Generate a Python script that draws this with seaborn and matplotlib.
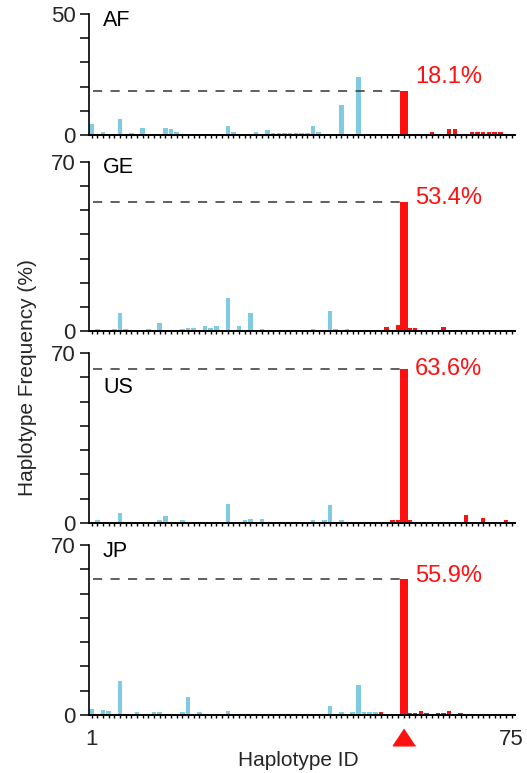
import numpy as np
import pandas as pd
import matplotlib
matplotlib.use("Agg")
import matplotlib.pyplot as plt
import seaborn as sns
from matplotlib.transforms import blended_transform_factory

# ---------------- data ----------------
haplotype_ids = list(range(1, 76))
panels = ["AF", "GE", "US", "JP"]
y_max = [50, 70, 70, 70]
main_id = 56
main_freq = [18.1, 53.4, 63.6, 55.9]
main_labels = ["18.1%", "53.4%", "63.6%", "55.9%"]
red_from = 52
x_tick_labels = ["1", "75"]

af_ids = [1, 3, 6, 8, 10, 14, 15, 16, 25, 26, 30, 32, 33, 34, 35, 36, 37, 38, 39,
          40, 41, 45, 48, 61, 64, 65, 68, 69, 70, 71, 72, 73]
af_vals = [4.5, 1.1, 6.5, 1.0, 3.0, 3.0, 2.3, 1.1, 3.9, 1.1, 1.1, 2.0, 1.0, 1.0, 1.0, 1.0, 1.0, 1.0, 1.0,
           3.9, 1.1, 12.4, 23.8, 1.4, 2.3, 2.3, 1.4, 1.4, 1.4, 1.4, 1.4, 1.4]

ge_ids = [2, 5, 6, 7, 11, 13, 17, 18, 19, 21, 22, 23, 25, 27, 29, 31, 40, 43, 44, 46,
          53, 55, 57, 58, 63]
ge_vals = [0.8, 0.8, 7.3, 0.9, 0.8, 3.2, 0.8, 1.4, 1.4, 2.2, 1.3, 2.2, 13.8, 2.2, 7.3, 0.8, 0.8, 8.4, 0.9, 0.8,
           1.5, 2.5, 1.4, 1.4, 1.5]

us_ids = [2, 6, 13, 14, 17, 25, 28, 29, 31, 40, 42, 43, 45, 54, 55, 57, 67, 70, 74]
us_vals = [1.2, 4.3, 1.2, 2.9, 1.2, 8.0, 1.2, 1.8, 1.8, 1.2, 1.2, 7.5, 1.2, 1.2, 1.2, 1.2, 3.2, 2.2, 1.4]

jp_ids = [1, 3, 4, 6, 9, 12, 13, 17, 18, 20, 25, 43, 45, 47, 48, 49, 50, 51,
          52, 57, 58, 59, 60, 62, 63, 64, 66, 75]
jp_vals = [2.6, 2.0, 1.5, 14.0, 1.2, 1.2, 1.2, 1.4, 7.4, 1.3, 1.5, 3.7, 1.2, 1.2, 12.4, 1.2, 1.2, 1.2,
           1.3, 0.8, 0.8, 1.8, 0.8, 1.0, 1.0, 1.6, 0.9, 0.6]

panel_ids = [af_ids, ge_ids, us_ids, jp_ids]
panel_vals = [af_vals, ge_vals, us_vals, jp_vals]

# ---------------- style ----------------
BLUE = "#7ECBE2"
RED = "#FF1010"
sns.set_style("ticks")
plt.rcParams["font.family"] = ["Liberation Sans", "DejaVu Sans"]

fig = plt.figure(figsize=(5.27, 7.73), dpi=100)
W, H = 527.0, 773.0
left_px, right_px = 89, 515
# (top_px, bottom_px) of each axes
boxes = [(14, 135), (162, 331), (353, 523), (545, 715)]
name_y = [0.95, 0.97, 0.80, 0.96]
label_dy = [6.0, 1.5, 0.0, 1.5]

for k, name in enumerate(panels):
    top, bot = boxes[k]
    ax = fig.add_axes([left_px / W, 1 - bot / H, (right_px - left_px) / W, (bot - top) / H])

    full = np.zeros(len(haplotype_ids))
    for i, v in zip(panel_ids[k], panel_vals[k]):
        full[i - 1] = v
    df = pd.DataFrame({
        "id": haplotype_ids,
        "freq": full,
        "grp": ["blue" if i < red_from else "red" for i in haplotype_ids],
    })
    df_minor = df[df["id"] != main_id]
    sns.barplot(data=df_minor, x="id", y="freq", hue="grp",
                palette={"blue": BLUE, "red": RED}, native_scale=True,
                width=0.8, dodge=False, errorbar=None, legend=False,
                saturation=1, linewidth=0, ax=ax)
    sns.barplot(x=[main_id], y=[main_freq[k]], color=RED, native_scale=True,
                width=1.35, errorbar=None, saturation=1, linewidth=0, ax=ax)

    # dashed reference line
    ax.hlines(main_freq[k], 1.3, main_id - 0.65, colors="#444444",
              linewidth=1.2, linestyles=(0, (5.5, 5.0)), zorder=1)
    ax.text(58.0, main_freq[k] + label_dy[k], main_labels[k], color=RED,
            fontsize=17, ha="left", va="center")
    ax.text(0.033, name_y[k], name, transform=ax.transAxes, fontsize=15.5,
            ha="left", va="center", color="black")

    ax.set_xlim(0.55, 75.6)
    ax.set_ylim(0, y_max[k])
    ax.set_xlabel("")
    ax.set_ylabel("")

    yt = list(range(0, y_max[k] + 1, 10))
    ax.set_yticks(yt)
    ax.set_yticklabels([str(t) if t in (0, y_max[k]) else "" for t in yt])
    ax.tick_params(axis="y", direction="out", length=6.5, width=1.1,
                   labelsize=16, pad=3, color="black")

    ax.set_xticks([1, 75])
    ax.set_xticks(haplotype_ids, minor=True)
    ax.tick_params(axis="x", which="both", direction="out", length=2.0,
                   width=1.0, color="black")
    if k == len(panels) - 1:
        ax.set_xticklabels(x_tick_labels)
        ax.tick_params(axis="x", which="major", labelsize=16, pad=8)
        trans = blended_transform_factory(ax.transData, ax.transAxes)
        ax.plot([main_id], [-0.13], marker=[(0, 0.75), (-1, -0.75), (1, -0.75)],
                markersize=16, color=RED, transform=trans, clip_on=False,
                linestyle="none")
    else:
        ax.set_xticklabels([])

    for s in ["top", "right"]:
        ax.spines[s].set_visible(False)
    ax.spines["left"].set_linewidth(1.2)
    ax.spines["bottom"].set_linewidth(1.4)
    ax.spines["left"].set_color("black")
    ax.spines["bottom"].set_color("black")
    ax.set_facecolor("none")

fig.text(28 / W, 1 - 378 / H, "Haplotype Frequency (%)", rotation=90,
         ha="center", va="center", fontsize=15)
fig.text(298 / W, 1 - 760 / H, "Haplotype ID", ha="center", va="center",
         fontsize=15)

fig.savefig("out.png", dpi=100)
